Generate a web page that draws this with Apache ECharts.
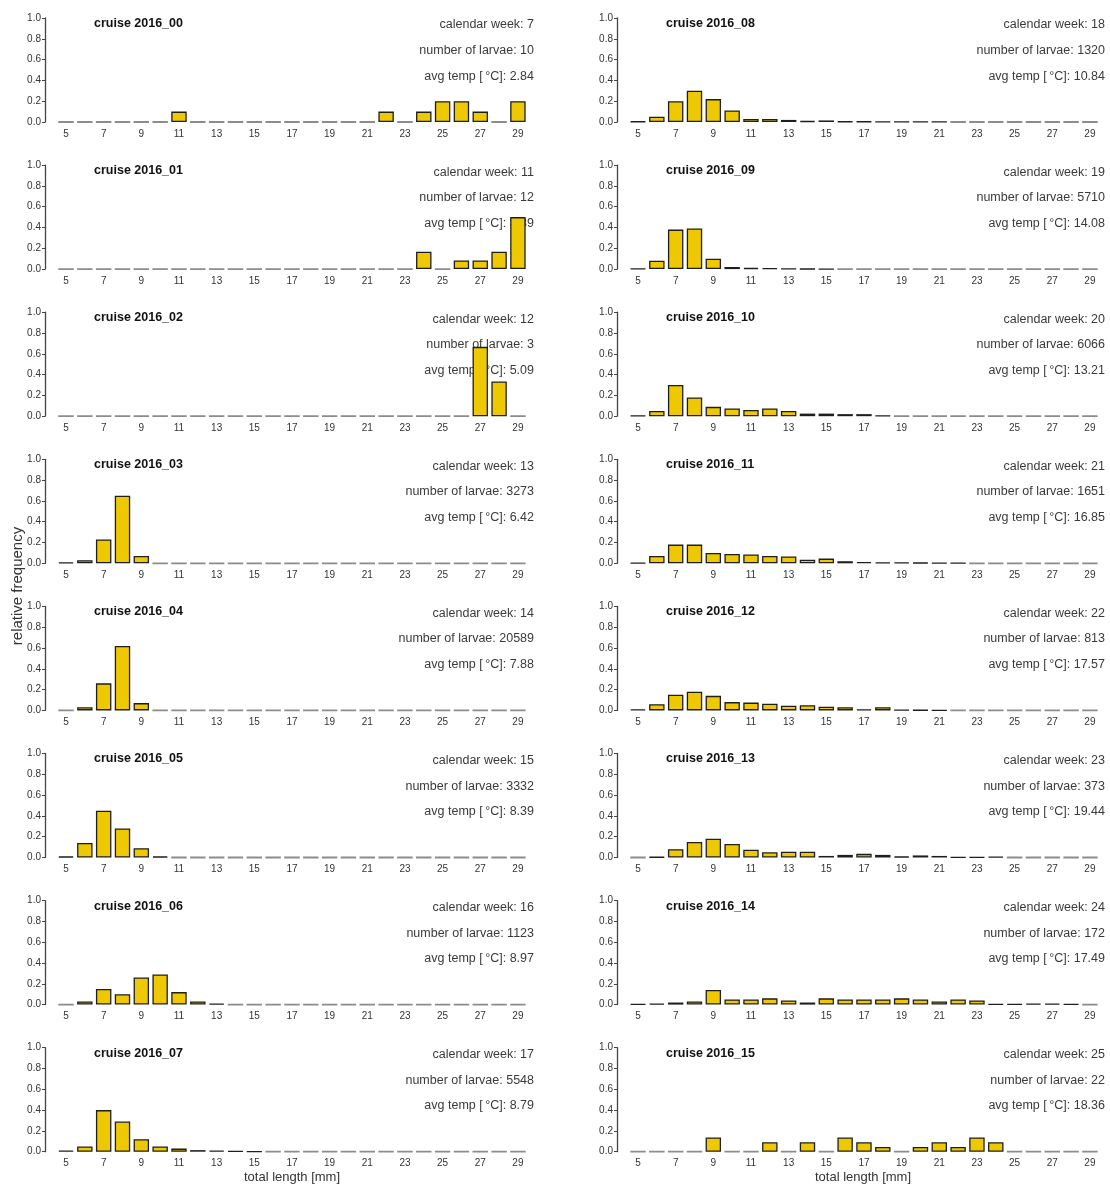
<!DOCTYPE html>
<html><head><meta charset="utf-8">
<script src="https://cdn.jsdelivr.net/npm/echarts@6/dist/echarts.min.js"></script>
<style>html,body{margin:0;padding:0;background:#fff}#c{width:1110px;height:1185px}</style>
</head><body><div id="c"></div>
<script>
const lengths = ['5','6','7','8','9','10','11','12','13','14','15','16','17','18','19','20','21','22','23','24','25','26','27','28','29'];
const cruises = ['cruise 2016_00','cruise 2016_01','cruise 2016_02','cruise 2016_03','cruise 2016_04','cruise 2016_05','cruise 2016_06','cruise 2016_07','cruise 2016_08','cruise 2016_09','cruise 2016_10','cruise 2016_11','cruise 2016_12','cruise 2016_13','cruise 2016_14','cruise 2016_15'];
const weeks = [7,11,12,13,14,15,16,17,18,19,20,21,22,23,24,25];
const larvae = [10,12,3,3273,20589,3332,1123,5548,1320,5710,6066,1651,813,373,172,22];
const temps = ['2.84','3.39','5.09','6.42','7.88','8.39','8.97','8.79','10.84','14.08','13.21','16.85','17.57','19.44','17.49','18.36'];

const c00 = [0,0,0,0,0,0,0.1,0,0,0,0,0,0,0,0,0,0,0.1,0,0.1,0.2,0.2,0.1,0,0.2];
const c01 = [0,0,0,0,0,0,0,0,0,0,0,0,0,0,0,0,0,0,0,0.167,0,0.083,0.083,0.167,0.5];
const c02 = [0,0,0,0,0,0,0,0,0,0,0,0,0,0,0,0,0,0,0,0,0,0,0.667,0.333,0];
const c03 = [0.01,0.03,0.23,0.65,0.07,0,0,0,0,0,0,0,0,0,0,0,0,0,0,0,0,0,0,0,0];
const c04 = [0,0.03,0.26,0.62,0.07,0,0,0,0,0,0,0,0,0,0,0,0,0,0,0,0,0,0,0,0];
const c05 = [0.01,0.14,0.45,0.28,0.09,0.01,0,0,0,0,0,0,0,0,0,0,0,0,0,0,0,0,0,0,0];
const c06 = [0,0.03,0.15,0.10,0.26,0.29,0.12,0.03,0.01,0,0,0,0,0,0,0,0,0,0,0,0,0,0,0,0];
const c07 = [0.01,0.05,0.40,0.29,0.12,0.05,0.03,0.015,0.01,0.005,0.003,0,0,0,0,0,0,0,0,0,0,0,0,0,0];
const c08 = [0.005,0.05,0.20,0.30,0.22,0.11,0.03,0.03,0.02,0.01,0.015,0.005,0.005,0.003,0.002,0.002,0.001,0,0,0,0,0,0,0,0];
const c09 = [0.005,0.08,0.38,0.39,0.10,0.02,0.012,0.008,0.003,0.002,0.001,0,0,0,0,0,0,0,0,0,0,0,0,0,0];
const c10 = [0.005,0.05,0.30,0.18,0.09,0.075,0.06,0.075,0.05,0.025,0.025,0.02,0.02,0.005,0,0,0,0,0,0,0,0,0,0,0];
const c11 = [0.005,0.07,0.18,0.18,0.10,0.09,0.085,0.07,0.065,0.035,0.045,0.02,0.012,0.01,0.01,0.006,0.004,0.002,0,0,0,0,0,0,0];
const c12 = [0.01,0.06,0.15,0.18,0.14,0.08,0.075,0.065,0.045,0.05,0.035,0.03,0.012,0.03,0.005,0.003,0.002,0,0,0,0,0,0,0,0];
const c13 = [0,0.005,0.08,0.15,0.18,0.13,0.075,0.05,0.055,0.055,0.015,0.025,0.035,0.025,0.01,0.02,0.015,0.003,0.003,0.008,0,0,0,0,0];
const c14 = [0.005,0.01,0.02,0.03,0.14,0.05,0.05,0.06,0.04,0.02,0.06,0.05,0.05,0.05,0.06,0.05,0.03,0.05,0.04,0.005,0.005,0.01,0.01,0.005,0];
const c15 = [0,0,0,0,0.136,0,0,0.091,0,0.091,0,0.136,0.091,0.045,0,0.045,0.091,0.045,0.136,0.091,0,0,0,0,0];
const seriesValues = [c00,c01,c02,c03,c04,c05,c06,c07,c08,c09,c10,c11,c12,c13,c14,c15];

const FONT = 'Liberation Sans, Arial, sans-serif';
const spineX = [45, 617];
const firstBar = [66, 638];
const band = 18.83;
const rowTop = 18, rowPitch = 147.1, plotH = 104;
const textRight = [534, 1105];

const grids = [], xAxes = [], yAxes = [], series = [], graphics = [];
seriesValues.forEach((vals, i) => {
  const col = i < 8 ? 0 : 1, row = i % 8;
  const top = rowTop + row * rowPitch;
  const left = firstBar[col] - band / 2;
  grids.push({left: left, top: top, width: band * 25, height: plotH});
  xAxes.push({type: 'category', gridIndex: i, data: lengths,
    axisLine: {show: false}, axisTick: {show: false},
    axisLabel: {interval: 1, fontSize: 10, color: '#333', fontFamily: FONT, margin: 7}});
  yAxes.push({type: 'value', gridIndex: i, min: 0, max: 1, interval: 0.2,
    offset: left - spineX[col],
    splitLine: {show: false},
    axisLine: {show: true, lineStyle: {color: '#444', width: 1.3}},
    axisTick: {show: true, length: 3, lineStyle: {color: '#444'}},
    axisLabel: {fontSize: 10, color: '#333', fontFamily: FONT, margin: 4,
      formatter: v => v.toFixed(1)}});
  series.push({type: 'bar', xAxisIndex: i, yAxisIndex: i, z: 5,
    data: vals.map(v => ({value: v, itemStyle: v === 0 ? {borderColor: '#8c8c8c', borderWidth: 1.8} : {}})),
    barCategoryGap: '18%',
    itemStyle: {color: '#EEC800', borderColor: '#1e1e1e', borderWidth: 1.3},
    animation: false, silent: true});
  graphics.push({type: 'text', z: 0, left: spineX[col] + 49, top: top - 1,
    style: {text: cruises[i], font: 'bold 12.5px ' + FONT, fill: '#111'}});
  const lines = ['calendar week: ' + weeks[i], 'number of larvae: ' + larvae[i], 'avg temp [\u2009\u00b0C]: ' + temps[i]];
  lines.forEach((t, k) => {
    graphics.push({type: 'text', z: 0, x: textRight[col], y: top + 7 + k * 25.6,
      style: {text: t, font: '12.5px ' + FONT, fill: '#3a3a3a', align: 'right', verticalAlign: 'middle'}});
  });
});
graphics.push({type: 'text', z: 0, x: 18, y: 586, rotation: Math.PI / 2,
  style: {text: 'relative frequency', font: '15px ' + FONT, fill: '#333', align: 'center', verticalAlign: 'middle'}});
graphics.push({type: 'text', z: 0, x: 292, y: 1177,
  style: {text: 'total length [mm]', font: '13px ' + FONT, fill: '#333', align: 'center', verticalAlign: 'middle'}});
graphics.push({type: 'text', z: 0, x: 863, y: 1177,
  style: {text: 'total length [mm]', font: '13px ' + FONT, fill: '#333', align: 'center', verticalAlign: 'middle'}});

const chart = echarts.init(document.getElementById('c'));
chart.setOption({animation: false, backgroundColor: '#fff', grid: grids, xAxis: xAxes, yAxis: yAxes, series: series, graphic: graphics});
</script></body></html>
